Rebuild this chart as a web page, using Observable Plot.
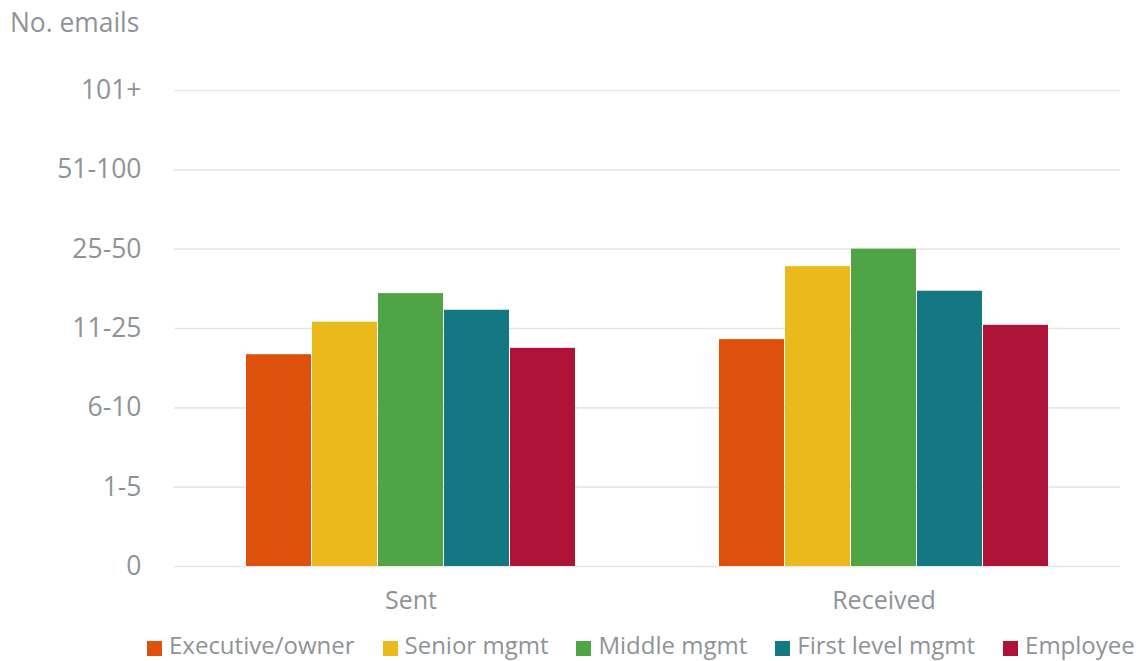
<!DOCTYPE html>
<html><head><meta charset="utf-8">
<script src="https://cdn.jsdelivr.net/npm/d3@7"></script>
<script src="https://cdn.jsdelivr.net/npm/@observablehq/plot@0.6"></script>
<style>
body{margin:0;background:#fff;font-family:"Open Sans",sans-serif;}
#wrap{position:relative;width:1142px;height:661px;overflow:hidden;}
#ylabel{position:absolute;left:10px;top:9px;font-size:26.4px;line-height:26px;color:#8e9397;}
#chart{position:absolute;left:0;top:0;}
#legend{position:absolute;left:147px;top:633px;display:flex;align-items:center;font-size:24px;line-height:24px;color:#8e9397;white-space:nowrap;}
#legend .item{display:flex;align-items:center;margin-right:28px;}
#legend .item:last-child{margin-right:0;}
#legend .sw{width:15px;height:15px;margin-right:7px;position:relative;top:3px;}
</style></head>
<body>
<div id="wrap">
  <div id="chart"></div>
  <div id="ylabel">No. emails</div>
  <div id="legend"></div>
</div>
<script>
const groups = ["Sent", "Received"];
const roles = ["Executive/owner", "Senior mgmt", "Middle mgmt", "First level mgmt", "Employee"];
const colors = ["#de510c", "#eab91b", "#4fa545", "#137882", "#ae1237"];
const sentValues = [2.67, 3.08, 3.44, 3.23, 2.75];
const receivedValues = [2.86, 3.78, 4.0, 3.47, 3.04];
const levelLabels = ["0", "1-5", "6-10", "11-25", "25-50", "51-100", "101+"];

const data = [];
roles.forEach((r, i) => {
  data.push({group: groups[0], role: r, value: sentValues[i]});
  data.push({group: groups[1], role: r, value: receivedValues[i]});
});
const levels = levelLabels.map((_, i) => i);
const textColor = "#8e9397";

const chart = Plot.plot({
  width: 1142,
  height: 625,
  marginLeft: 173,
  marginRight: 22,
  marginTop: 90,
  marginBottom: 59,
  style: {fontFamily: "Open Sans", fontSize: "26px", color: textColor, background: "white"},
  fx: {domain: groups, padding: 0, label: null},
  x: {domain: roles, paddingInner: 0.02, paddingOuter: 1.08, axis: null},
  y: {domain: [0, 6], axis: null},
  color: {domain: roles, range: colors},
  marks: [
    Plot.ruleY(levels, {stroke: "#e6e6e6", strokeWidth: 1.6}),
    Plot.barY(data, {fx: "group", x: "role", y: "value", fill: "role"}),
    Plot.axisY(levels, {anchor: "left", tickSize: 0, tickPadding: 33, tickFormat: d => levelLabels[d], label: null, fill: textColor, fontSize: 26.5}),
    Plot.axisFx({anchor: "bottom", tickSize: 0, tickPadding: 25, label: null, fill: textColor, fontSize: 25})
  ]
});
document.getElementById("chart").appendChild(chart);

const legend = document.getElementById("legend");
roles.forEach((r, i) => {
  const item = document.createElement("div");
  item.className = "item";
  const sw = document.createElement("span");
  sw.className = "sw";
  sw.style.background = colors[i];
  const t = document.createElement("span");
  t.textContent = r;
  item.appendChild(sw);
  item.appendChild(t);
  legend.appendChild(item);
});
</script>
</body></html>
